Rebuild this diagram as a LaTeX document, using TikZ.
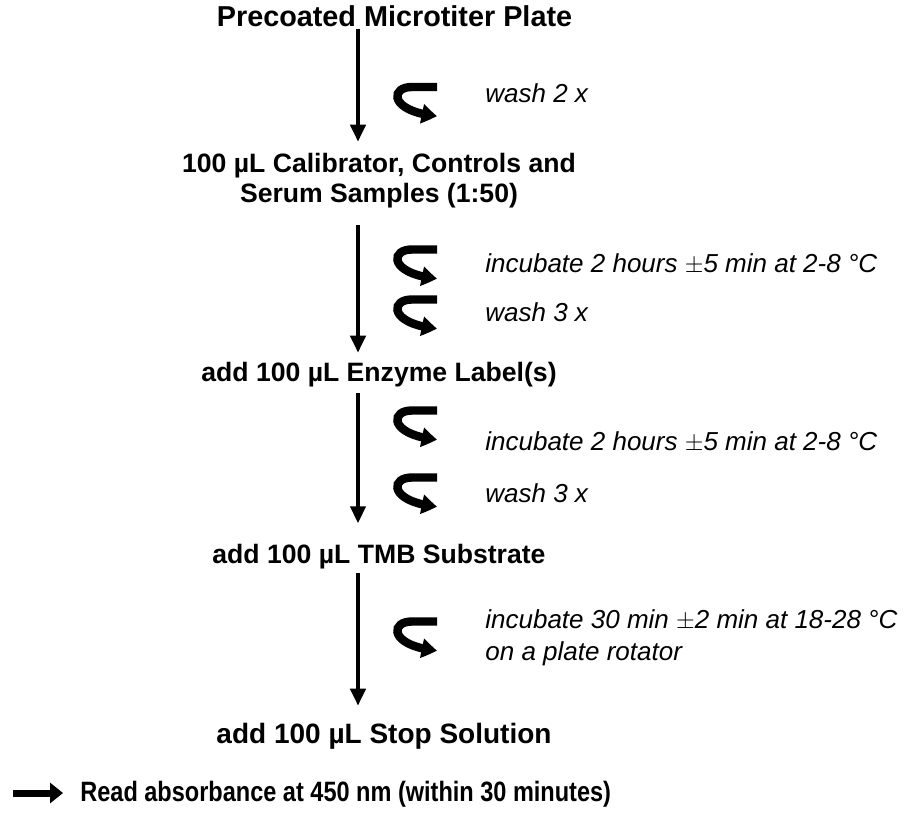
\documentclass[tikz,border=0pt]{standalone}
\usepackage{fontspec}
\usepackage{graphicx}
\setmainfont{Liberation Sans}
\usetikzlibrary{arrows.meta,bending}

\begin{document}
\begin{tikzpicture}[x=0.5pt,y=-0.5pt,
  stepnode/.style={inner sep=0pt,anchor=base,align=center,
    font=\bfseries\fontsize{14}{15}\selectfont},
  narrow/.style={font=\bfseries\fontsize{13.3}{15}\selectfont},
  note/.style={inner sep=0pt,anchor=base west,align=left,
    font=\itshape\fontsize{13}{16}\selectfont},
  flow/.style={line width=2pt,-{Triangle[length=8.5pt,width=7.5pt]}},
  turn/.pic={
    \draw[line width=4.2pt,-{Triangle[length=7.5pt,width=9.5pt,bend]}]
      (21,-15) -- (-4,-15) .. controls (-27,-15) and (-26,10) .. (21,14);
  }]
  \useasboundingbox (0,0) rectangle (911,815);
  \coordinate (axis) at (358,0);
  % steps
  \node[stepnode,font=\bfseries\fontsize{14.4}{15}\selectfont] (plate) at (394.5,26) {Precoated Microtiter Plate};
  \node[stepnode,narrow] (calib) at (379,202) {100 µL Calibrator, Controls and\\Serum Samples (1:50)};
  \node[stepnode,narrow] (enzyme) at (379,381) {add 100 µL Enzyme Label(s)};
  \node[stepnode,narrow] (tmb) at (379,563) {add 100 µL TMB Substrate};
  \node[stepnode] (stop) at (384,743) {add 100 µL Stop Solution};
  \draw[flow,shorten <=1pt,shorten >=5.3pt] (plate.south -| axis) -- (calib.north -| axis);
  \draw[flow,shorten <=8.5pt,shorten >=4.3pt] (calib.south -| axis) -- (enzyme.north -| axis);
  \draw[flow,shorten <=3pt,shorten >=10pt] (enzyme.south -| axis) -- (tmb.north -| axis);
  \draw[flow,shorten <=2pt,shorten >=8.3pt] (tmb.south -| axis) -- (stop.north -| axis);
  % handling
  \pic at (416,102) {turn};
  \node[note] (wash1) at (485,102) {wash 2 x};
  \pic at (416,264.5) {turn};
  \node[note] (inc1) at (485,272) {incubate 2 hours $\pm$5 min at 2-8 °C};
  \pic at (416,314.5) {turn};
  \node[note] (wash2) at (485,321) {wash 3 x};
  \pic at (416,425.5) {turn};
  \node[note] (inc2) at (485,450) {incubate 2 hours $\pm$5 min at 2-8 °C};
  \pic at (416,492.5) {turn};
  \node[note] (wash3) at (485,502) {wash 3 x};
  \pic at (416,636.5) {turn};
  \node[note] (inc3) at (485,660) {incubate 30 min $\pm$2 min at 18-28 °C\\on a plate rotator};
  % read out
  \node[stepnode,anchor=base west] (read) at (80,801) {\scalebox{0.84}[1]{Read absorbance at 450 nm (within 30 minutes)}};
  \coordinate (go) at (13,793);
  \draw[line width=3.5pt,-{Triangle[length=6.5pt,width=10pt]},shorten >=8.5pt] (go) -- (go -| read.west);
\end{tikzpicture}
\end{document}
